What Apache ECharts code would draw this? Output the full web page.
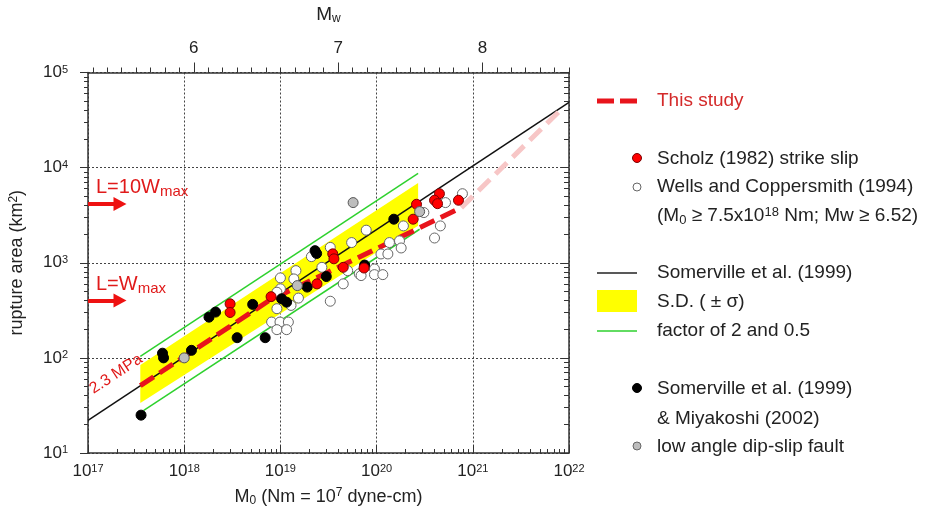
<!DOCTYPE html>
<html>
<head>
<meta charset="utf-8">
<script src="https://cdn.jsdelivr.net/npm/echarts@6/dist/echarts.min.js"></script>
<style>html,body{margin:0;background:#fff}#chart{width:934px;height:518px}</style>
</head>
<body>
<div id="chart"></div>
<script>
// seismic moment M0 (Nm) against rupture area (km2)
const xDecades = [1e17, 1e18, 1e19, 1e20, 1e21, 1e22];
const yDecades = [1e1, 1e2, 1e3, 1e4, 1e5];
const mwLabels = [6, 7, 8];

// Scholz (1982) strike slip
const scholz = [
  [3.0e18, 370], [3.0e18, 300], [8.0e18, 440], [2.4e19, 600], [3.5e19, 1240],
  [3.6e19, 1100], [4.5e19, 895], [7.4e19, 880], [2.4e20, 2870], [2.6e20, 4120],
  [4.5e20, 5320], [4.0e20, 4540], [4.3e20, 4180], [7.1e20, 4540]
];
// Wells and Coppersmith (1994)
const wells = [
  [2.1e19, 1160], [3.3e19, 1450], [2.7e19, 895], [5.5e19, 1630], [7.8e19, 2200],
  [5.0e19, 826], [4.5e19, 600], [1.45e19, 826], [1.38e19, 676], [1.0e19, 693],
  [1.0e19, 532], [9.2e18, 490], [1.54e19, 425], [9.2e18, 329], [1.29e19, 356],
  [3.3e19, 394], [8.1e18, 238], [9.9e18, 238], [1.21e19, 238], [9.2e18, 198],
  [1.16e19, 198], [6.6e19, 764], [9.5e19, 861], [9.5e19, 750], [1.16e20, 750],
  [6.9e19, 733], [1.11e20, 1237], [1.31e20, 1237], [1.36e20, 1630], [1.73e20, 1700],
  [1.8e20, 1430], [3.1e20, 3370], [1.9e20, 2440], [5.2e20, 4290], [7.8e20, 5320],
  [4.6e20, 2440], [4.0e20, 1820]
];
// Somerville et al. (1999) & Miyakoshi (2002)
const somervilleObs = [
  [3.56e17, 25], [5.95e17, 112], [6.1e17, 100], [1.19e18, 120], [1.81e18, 268],
  [2.12e18, 303], [5.15e18, 365], [3.55e18, 163], [6.95e18, 163], [1.03e19, 418],
  [1.16e19, 385], [1.9e19, 555], [3.0e19, 716], [2.29e19, 1340], [2.38e19, 1250],
  [7.5e19, 946], [1.51e20, 2870]
];
// low angle dip-slip fault
const lowAngle = [[1.0e18, 100], [1.5e19, 575], [5.7e19, 4290], [2.8e20, 3450]];

const somervilleLine = [[1e17, 22], [1e22, 48500]];
const sdBand = [[3.5e17, 84], [2.7e20, 6900], [2.7e20, 2450], [3.5e17, 33.5]];
const factor2 = [[3.5e17, 104], [2.7e20, 8700]];
const factorHalf = [[3.8e17, 28], [2.8e20, 2250]];
const thisStudy = [[3.5e17, 51], [7.5e18, 396], [7.6e20, 3800]];
const thisStudyExt = [[7.6e20, 3800], [7.9e21, 39000]];
const arrowTenW = [[1e17, 4150], [2.15e17, 4150]];
const arrowW = [[1e17, 400], [2.15e17, 400]];

const FONT = '"Liberation Sans", Arial, sans-serif';
const TXT = '#222';

const xMinor = [];
xDecades.slice(0, -1).forEach(d => { for (let k = 2; k <= 9; k++) xMinor.push(k * d); });
const yMinor = [];
yDecades.slice(0, -1).forEach(d => { for (let k = 2; k <= 9; k++) yMinor.push(k * d); });
const mwMinor = [];
for (let i = 53; i <= 86; i++) mwMinor.push(i / 10);
const mwMin = 2 / 3 * (17 - 9.1), mwMax = 2 / 3 * (22 - 9.1);

const powRich = {
  b: { fontSize: 17, color: TXT, fontFamily: FONT },
  s: { fontSize: 11, color: TXT, fontFamily: FONT, verticalAlign: 'top', padding: [0, 0, 6, 0] }
};
const powFmt = v => '{b|10}{s|' + Math.round(Math.log10(v)) + '}';
const frame = { show: true, lineStyle: { color: '#333', width: 1.5 } };
const grid = { color: '#444', type: [2, 2], width: 1 };
const tickCol = { color: '#333' };

const chart = echarts.init(document.getElementById('chart'));

const dot = (name, data, fill, stroke) => ({
  name, type: 'scatter', data, symbolSize: 10, z: 5,
  itemStyle: { color: fill, borderColor: stroke, borderWidth: 1, opacity: 1 }
});
const seg = (data, color, width, dash, z) => ({
  type: 'line', data, showSymbol: false, z, silent: true,
  lineStyle: { color, width, type: dash || 'solid', cap: 'butt' }
});
// extra axis that only carries minor ticks
const minorAxis = (type, min, max, position, inside, length, values) => ({
  type, min, max, position,
  axisLine: { show: false },
  axisTick: { show: true, inside, length, customValues: values, lineStyle: tickCol },
  axisLabel: { show: false }, splitLine: { show: false }
});

chart.setOption({
  animation: false,
  grid: { left: 85, top: 71, width: 484, height: 382 },
  xAxis: [
    {
      type: 'log', logBase: 10, min: 1e17, max: 1e22, position: 'bottom',
      axisLine: frame,
      axisTick: { show: true, inside: true, length: 8, customValues: xDecades, lineStyle: tickCol },
      axisLabel: { customValues: xDecades, formatter: powFmt, rich: powRich, margin: 10 },
      splitLine: { show: true, lineStyle: grid },
      name: 'M{sub|0} (Nm = 10{sup|7} dyne-cm)', nameLocation: 'middle', nameGap: 34,
      nameTextStyle: {
        fontSize: 18, color: TXT, fontFamily: FONT,
        rich: {
          sub: { fontSize: 12, color: TXT, fontFamily: FONT, verticalAlign: 'bottom', padding: [8, 0, 0, 0] },
          sup: { fontSize: 12, color: TXT, fontFamily: FONT, verticalAlign: 'top', padding: [0, 0, 6, 0] }
        }
      }
    },
    minorAxis('log', 1e17, 1e22, 'bottom', true, 4, xMinor),
    {
      type: 'value', min: mwMin, max: mwMax, position: 'top',
      axisLine: frame,
      axisTick: { show: true, inside: false, length: 10, customValues: mwLabels, lineStyle: tickCol },
      axisLabel: { customValues: mwLabels, fontSize: 17, color: TXT, fontFamily: FONT, margin: 16 },
      splitLine: { show: false },
      name: 'M{sub|w}', nameLocation: 'middle', nameGap: 48,
      nameTextStyle: {
        fontSize: 19, color: TXT, fontFamily: FONT,
        rich: { sub: { fontSize: 12, color: TXT, fontFamily: FONT, verticalAlign: 'bottom', padding: [8, 0, 0, 0] } }
      }
    },
    minorAxis('value', mwMin, mwMax, 'top', false, 5, mwMinor)
  ],
  yAxis: [
    {
      type: 'log', logBase: 10, min: 10, max: 1e5, position: 'left',
      axisLine: frame,
      axisTick: { show: true, inside: false, length: 8, customValues: yDecades, lineStyle: tickCol },
      axisLabel: { customValues: yDecades, formatter: powFmt, rich: powRich, margin: 20 },
      splitLine: { show: true, lineStyle: grid },
      name: 'rupture area (km{sup|2})', nameLocation: 'middle', nameGap: 62, nameRotate: 90,
      nameTextStyle: {
        fontSize: 18, color: TXT, fontFamily: FONT,
        rich: { sup: { fontSize: 12, color: TXT, fontFamily: FONT, verticalAlign: 'top', padding: [0, 0, 6, 0] } }
      }
    },
    minorAxis('log', 10, 1e5, 'left', false, 4, yMinor),
    {
      type: 'log', logBase: 10, min: 10, max: 1e5, position: 'right',
      axisLine: frame,
      axisTick: { show: true, inside: true, length: 8, customValues: yDecades, lineStyle: tickCol },
      axisLabel: { show: false }, splitLine: { show: false }
    },
    minorAxis('log', 10, 1e5, 'right', true, 5, yMinor)
  ],
  series: [
    {
      type: 'custom', data: sdBand, z: 1, silent: true,
      renderItem: (params, api) => {
        if (params.dataIndex !== 0) return;
        return { type: 'polygon', shape: { points: sdBand.map(p => api.coord(p)) }, style: { fill: '#ffff00' } };
      }
    },
    seg(factor2, '#2ed12e', 1.5, null, 2),
    seg(factorHalf, '#2ed12e', 1.5, null, 2),
    seg(somervilleLine, '#111', 1.5, null, 3),
    seg(thisStudyExt, '#f7c6c6', 5, [16, 8], 3),
    seg(thisStudy, '#e8141c', 5, [16, 7], 4),
    {
      type: 'line', data: [], silent: true,
      markLine: {
        silent: true, symbol: ['none', 'triangle'], symbolSize: [14, 13],
        lineStyle: { color: '#ee1111', width: 4, type: 'solid' }, label: { show: false },
        data: [
          [{ coord: arrowTenW[0] }, { coord: arrowTenW[1] }],
          [{ coord: arrowW[0] }, { coord: arrowW[1] }]
        ]
      }
    },
    dot('Wells and Coppersmith (1994)', wells, '#ffffff', '#666'),
    dot('Somerville et al. (1999) & Miyakoshi (2002)', somervilleObs, '#000000', '#000'),
    dot('Scholz (1982) strike slip', scholz, '#ff0000', '#7a0000'),
    dot('low angle dip-slip fault', lowAngle, '#bdbdbd', '#555')
  ],
  graphic: [
    { type: 'text', x: 116, y: 374, rotation: 0.58, z: 10,
      style: { text: '2.3 MPa', fill: '#e01a1a', font: '16px ' + FONT, align: 'center', verticalAlign: 'middle' } },
    { type: 'text', x: 96, y: 187, z: 10,
      style: { text: 'L=10W{s|max}', fill: '#e01a1a', font: '20px ' + FONT, verticalAlign: 'middle',
        rich: { s: { fontSize: 15, fill: '#e01a1a', fontFamily: FONT, verticalAlign: 'bottom', padding: [10, 0, 0, 0] } } } },
    { type: 'text', x: 96, y: 284, z: 10,
      style: { text: 'L=W{s|max}', fill: '#e01a1a', font: '20px ' + FONT, verticalAlign: 'middle',
        rich: { s: { fontSize: 15, fill: '#e01a1a', fontFamily: FONT, verticalAlign: 'bottom', padding: [10, 0, 0, 0] } } } },

    { type: 'line', shape: { x1: 597, y1: 101, x2: 637, y2: 101 }, style: { stroke: '#e8141c', lineWidth: 5, lineDash: [17, 6] } },
    { type: 'text', x: 657, y: 101, style: { text: 'This study', fill: '#d42a2a', font: '19px ' + FONT, verticalAlign: 'middle' } },
    { type: 'circle', shape: { cx: 637, cy: 158, r: 4.5 }, style: { fill: '#ff0000', stroke: '#7a0000', lineWidth: 1 } },
    { type: 'text', x: 657, y: 159, style: { text: 'Scholz (1982) strike slip', fill: TXT, font: '19px ' + FONT, verticalAlign: 'middle' } },
    { type: 'circle', shape: { cx: 637, cy: 187, r: 4 }, style: { fill: '#fff', stroke: '#666', lineWidth: 1 } },
    { type: 'text', x: 657, y: 187, style: { text: 'Wells and Coppersmith (1994)', fill: TXT, font: '19px ' + FONT, verticalAlign: 'middle' } },
    { type: 'text', x: 657, y: 216, style: { text: '(M{sub|0} ≥ 7.5x10{sup|18} Nm; Mw ≥ 6.52)', fill: TXT, font: '19px ' + FONT, verticalAlign: 'middle',
        rich: {
          sub: { fontSize: 13, fill: TXT, fontFamily: FONT, verticalAlign: 'bottom', padding: [8, 0, 0, 0] },
          sup: { fontSize: 13, fill: TXT, fontFamily: FONT, verticalAlign: 'top', padding: [0, 0, 6, 0] }
        } } },
    { type: 'line', shape: { x1: 597, y1: 273, x2: 637, y2: 273 }, style: { stroke: '#222', lineWidth: 1.5 } },
    { type: 'text', x: 657, y: 273, style: { text: 'Somerville et al. (1999)', fill: TXT, font: '19px ' + FONT, verticalAlign: 'middle' } },
    { type: 'rect', shape: { x: 597, y: 290, width: 40, height: 22 }, style: { fill: '#ffff00' } },
    { type: 'text', x: 657, y: 302, style: { text: 'S.D. ( ± σ)', fill: TXT, font: '19px ' + FONT, verticalAlign: 'middle' } },
    { type: 'line', shape: { x1: 597, y1: 331, x2: 637, y2: 331 }, style: { stroke: '#2ed12e', lineWidth: 1.5 } },
    { type: 'text', x: 657, y: 331, style: { text: 'factor of 2 and 0.5', fill: TXT, font: '19px ' + FONT, verticalAlign: 'middle' } },
    { type: 'circle', shape: { cx: 637, cy: 388, r: 4.5 }, style: { fill: '#000', stroke: '#000', lineWidth: 1 } },
    { type: 'text', x: 657, y: 389, style: { text: 'Somerville et al. (1999)', fill: TXT, font: '19px ' + FONT, verticalAlign: 'middle' } },
    { type: 'text', x: 657, y: 419, style: { text: '& Miyakoshi (2002)', fill: TXT, font: '19px ' + FONT, verticalAlign: 'middle' } },
    { type: 'circle', shape: { cx: 637, cy: 446, r: 4 }, style: { fill: '#bdbdbd', stroke: '#666', lineWidth: 1 } },
    { type: 'text', x: 657, y: 447, style: { text: 'low angle dip-slip fault', fill: TXT, font: '19px ' + FONT, verticalAlign: 'middle' } }
  ]
});
</script>
</body>
</html>
